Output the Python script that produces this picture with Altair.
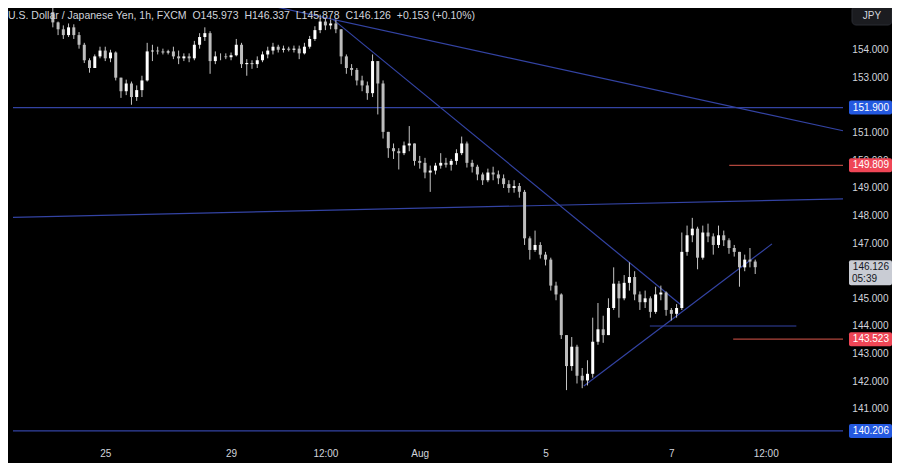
import altair as alt
import pandas as pd

# ---------------- data (2h candles, hour index counted in trading hours from Jul 25 00:00)
hours = list(range(-20, 250, 2))

opens = [
    155.35, 154.98, 154.73, 154.52, 154.80, 154.52, 154.17, 153.61, 153.33, 153.75,
    153.96, 153.68, 153.89, 152.98, 152.49, 152.77, 152.28, 152.53, 152.88, 153.93,
    153.96, 153.93, 153.89, 153.93, 153.75, 153.68, 153.75, 153.68, 154.17, 154.45,
    154.59, 153.58, 153.75, 153.75, 153.72, 153.79, 154.17, 153.47, 153.51, 153.47,
    153.61, 153.82, 153.96, 154.10, 153.99, 154.03, 153.99, 154.03, 153.86, 154.10,
    154.38, 154.70, 155.01, 154.87, 154.94, 154.73, 153.75, 153.33, 153.26, 152.88,
    152.70, 152.42, 153.58, 152.77, 151.02, 150.43, 150.32, 150.25, 150.53, 150.60,
    149.97, 149.90, 149.55, 149.62, 149.80, 149.90, 149.83, 149.97, 150.25, 150.60,
    149.90, 149.76, 149.48, 149.27, 149.55, 149.48, 149.34, 149.13, 148.99, 149.06,
    148.85, 147.17, 146.75, 146.93, 146.58, 146.40, 145.46, 145.14, 143.67, 142.55,
    143.25, 142.20, 142.03, 142.27, 143.43, 143.88, 143.67, 144.65, 145.53, 145.00,
    145.56, 145.77, 145.14, 144.86, 145.00, 144.51, 145.14, 145.21, 144.58, 144.44,
    144.65, 146.68, 147.28, 147.52, 146.47, 147.38, 147.24, 146.93, 147.28, 147.10,
    146.82, 146.68, 146.12, 146.40, 146.33,
]
highs = [
    155.80, 155.01, 154.87, 154.94, 154.91, 154.63, 154.24, 153.68, 153.82, 154.10,
    154.10, 153.99, 153.93, 152.98, 152.91, 152.84, 152.70, 153.05, 154.24, 154.17,
    154.10, 154.03, 153.99, 154.10, 153.96, 153.86, 153.86, 154.31, 154.59, 154.80,
    154.66, 153.93, 153.86, 153.86, 153.89, 154.38, 154.24, 153.65, 153.61, 153.75,
    153.93, 154.10, 154.24, 154.17, 154.14, 154.10, 154.14, 154.14, 154.24, 154.49,
    154.84, 155.26, 155.12, 155.08, 155.08, 154.73, 153.82, 153.47, 153.33, 153.05,
    152.84, 153.82, 153.58, 152.88, 151.02, 150.60, 150.43, 150.67, 151.23, 150.60,
    150.15, 150.08, 149.80, 149.90, 150.25, 150.08, 150.04, 150.39, 150.85, 150.67,
    150.01, 149.83, 149.55, 149.69, 149.76, 149.62, 149.48, 149.27, 149.27, 149.17,
    148.92, 147.24, 147.45, 147.03, 146.68, 146.47, 145.60, 145.18, 143.67, 143.60,
    143.32, 142.48, 142.76, 144.30, 144.83, 144.37, 145.00, 146.12, 145.63, 145.84,
    146.30, 145.98, 145.25, 145.28, 145.07, 145.42, 145.46, 145.25, 144.65, 144.79,
    147.38, 147.63, 147.91, 147.59, 147.63, 147.70, 147.35, 147.63, 147.45, 147.17,
    146.93, 146.68, 146.58, 146.82, 146.40,
]
lows = [
    154.80, 154.52, 154.38, 154.45, 154.38, 154.03, 153.51, 153.16, 153.33, 153.68,
    153.58, 153.54, 152.88, 152.25, 152.35, 152.00, 152.14, 152.28, 152.84, 153.58,
    153.82, 153.82, 153.82, 153.65, 153.47, 153.58, 153.54, 153.61, 154.03, 154.31,
    153.12, 153.47, 153.61, 153.65, 153.61, 153.75, 153.33, 153.05, 153.30, 153.33,
    153.54, 153.68, 153.82, 153.89, 153.89, 153.93, 153.89, 153.65, 153.82, 154.03,
    154.31, 154.59, 154.70, 154.73, 154.59, 153.47, 153.12, 153.05, 152.70, 152.49,
    152.18, 152.28, 151.65, 150.78, 150.08, 150.04, 149.66, 150.18, 150.32, 149.80,
    149.69, 149.34, 148.85, 149.48, 149.69, 149.73, 149.62, 149.83, 150.18, 149.73,
    149.55, 149.27, 149.10, 149.20, 149.27, 149.13, 148.99, 148.82, 148.82, 148.64,
    146.93, 146.40, 146.68, 146.44, 146.19, 145.28, 144.93, 143.53, 141.68, 142.38,
    141.92, 141.75, 141.85, 142.13, 143.32, 143.39, 143.67, 144.58, 144.30, 144.93,
    145.28, 144.93, 144.58, 144.65, 144.30, 144.44, 144.93, 144.37, 144.20, 144.30,
    144.58, 146.54, 147.03, 146.05, 146.40, 147.03, 146.58, 146.82, 146.89, 146.61,
    146.51, 145.42, 145.98, 146.12, 145.88,
]
closes = [
    154.98, 154.73, 154.52, 154.80, 154.52, 154.17, 153.61, 153.33, 153.75, 153.96,
    153.68, 153.89, 152.98, 152.49, 152.77, 152.28, 152.53, 152.88, 153.93, 153.96,
    153.93, 153.89, 153.93, 153.75, 153.68, 153.75, 153.68, 154.17, 154.45, 154.59,
    153.58, 153.75, 153.75, 153.72, 153.79, 154.17, 153.47, 153.51, 153.47, 153.61,
    153.82, 153.96, 154.10, 153.99, 154.03, 153.99, 154.03, 153.86, 154.10, 154.38,
    154.70, 155.01, 154.87, 154.94, 154.73, 153.75, 153.33, 153.26, 152.88, 152.70,
    152.42, 153.58, 152.77, 151.02, 150.43, 150.32, 150.25, 150.53, 150.60, 149.97,
    149.90, 149.55, 149.62, 149.80, 149.90, 149.83, 149.97, 150.25, 150.60, 149.90,
    149.76, 149.48, 149.27, 149.55, 149.48, 149.34, 149.13, 148.99, 149.06, 148.85,
    147.17, 146.75, 146.93, 146.58, 146.40, 145.46, 145.14, 143.67, 142.55, 143.25,
    142.20, 142.03, 142.27, 143.43, 143.88, 143.67, 144.65, 145.53, 145.00, 145.56,
    145.77, 145.14, 144.86, 145.00, 144.51, 145.14, 145.21, 144.58, 144.44, 144.65,
    146.68, 147.28, 147.52, 146.47, 147.38, 147.24, 146.93, 147.28, 147.10, 146.82,
    146.68, 146.12, 146.40, 146.33, 146.126,
]

# x-axis tick labels (hour index -> label)
tick_hours = [0, 48, 84, 120, 168, 216, 252]
tick_labels = ["25", "29", "12:00", "Aug", "5", "7", "12:00"]
# price ticks that are not hidden behind the price tags
price_ticks = [141, 142, 143, 144, 145, 147, 148, 149, 150, 151, 153, 154]

# drawn lines: start hour, start price, end hour, end price, kind
X_MIN, X_MAX = -35.2, 281.5
Y_MIN, Y_MAX = 139.84, 155.50
seg_h1 = [X_MIN, X_MIN, X_MIN, 66.0, 87.0, 182.6, 207.8, 238.1, 239.6]
seg_p1 = [151.9, 140.206, 147.93, 155.52, 155.08, 141.83, 144.0, 149.809, 143.523]
seg_h2 = [X_MAX, X_MAX, X_MAX, X_MAX, 219.6, 254.4, 263.7, X_MAX, X_MAX]
seg_p2 = [151.9, 140.206, 148.60, 151.06, 144.77, 146.97, 144.0, 149.809, 143.523]
seg_kind = ["blue"] * 7 + ["red"] * 2

# price tags on the right scale
tag_prices = [151.9, 149.809, 143.523, 140.206]
tag_kinds = ["blue", "red", "red", "blue"]
last_price = [146.126]
countdown = ["05:39"]
GAP = "\u00a0\u00a0"
title_text = GAP.join(["U.S. Dollar / Japanese Yen, 1h, FXCM", "O145.973", "H146.337",
                       "L145.878", "C146.126", "+0.153 (+0.10%)"])

# ---------------- chart
W, H = 840, 433
FONT = "Liberation Sans"
TXT = "#d1d4dc"

candles = pd.DataFrame({"h": hours, "o": opens, "hi": highs, "lo": lows, "c": closes})
segs = pd.DataFrame({"h": seg_h1, "p": seg_p1, "h2": seg_h2, "p2": seg_p2, "kind": seg_kind})
tags = pd.DataFrame({"p": tag_prices, "kind": tag_kinds})
last = pd.DataFrame({"p": last_price, "cd": countdown})

xs = alt.Scale(domain=[X_MIN, X_MAX], nice=False, zero=False)
ys = alt.Scale(domain=[Y_MIN, Y_MAX], nice=False, zero=False)

label_expr = " : ".join(f"datum.value == {h} ? '{l}'" for h, l in zip(tick_hours, tick_labels)) + " : ''"

x_axis = alt.Axis(values=tick_hours, labelExpr=label_expr, labelColor=TXT, labelFontSize=10,
                  labelFont=FONT, ticks=False, tickSize=0, domain=False, grid=False,
                  labelPadding=7, title="", labelFlush=False)
y_axis = alt.Axis(orient="right", values=price_ticks, format=".3f", labelColor=TXT,
                  labelFontSize=10, labelFont=FONT, labelAlign="right", labelPadding=40,
                  ticks=False, tickSize=0, domain=False, grid=False, title="")


def X(field):
    return alt.X(field, type="quantitative", scale=xs, axis=x_axis, title="")


def Y(field):
    return alt.Y(field, type="quantitative", scale=ys, axis=y_axis, title="")


is_blue = "datum.kind == 'blue'"

segments = alt.Chart(segs).mark_rule(strokeWidth=1.2, clip=True).encode(
    x=X("h"), y=Y("p"), x2="h2", y2="p2",
    color=alt.condition(is_blue, alt.value("#3343a3"), alt.value("#b0463c")),
)

wicks = alt.Chart(candles).mark_rule(strokeWidth=1, color="#c4c4c4", clip=True).encode(
    x=X("h"), y=Y("lo"), y2="hi",
)

bodies = alt.Chart(candles).mark_bar(size=3, clip=True).encode(
    x=X("h"), y=Y("o"), y2="c",
    color=alt.condition("datum.c >= datum.o", alt.value("#ffffff"), alt.value("#bdbdbd")),
)

tag_boxes = alt.Chart(tags).mark_rect(yOffset=-7, y2Offset=7, cornerRadius=2).encode(
    x=alt.value(W + 1), x2=alt.value(W + 44),
    y=Y("p"), y2="p",
    color=alt.condition(is_blue, alt.value("#2459e0"), alt.value("#ef4656")),
)
tag_text = alt.Chart(tags).mark_text(align="right", baseline="middle", fontSize=10,
                                     font=FONT, color="#ffffff").encode(
    x=alt.value(W + 41), y=Y("p"), text=alt.Text("p:Q", format=".3f"),
)

last_box = alt.Chart(last).mark_rect(yOffset=-7, y2Offset=18, color="#c9ccd4", cornerRadius=2).encode(
    x=alt.value(W + 1), x2=alt.value(W + 44), y=Y("p"), y2="p",
)
last_text = alt.Chart(last).mark_text(align="right", baseline="middle", fontSize=10,
                                      font=FONT, color="#131722").encode(
    x=alt.value(W + 41), y=Y("p"), text=alt.Text("p:Q", format=".3f"),
)
last_cd = alt.Chart(last).mark_text(align="left", baseline="middle", fontSize=10, dy=12,
                                    font=FONT, color="#131722").encode(
    x=alt.value(W + 4), y=Y("p"), text="cd:N",
)

title = alt.Chart(pd.DataFrame({"t": [title_text]})).mark_text(
    align="left", baseline="middle", fontSize=10.5, font=FONT, color=TXT
).encode(x=alt.value(0), y=alt.value(8), text="t:N")

cur = alt.Chart(pd.DataFrame({"t": ["JPY"]}))
cur_box = cur.mark_rect(color="#1b1c20", stroke="#2a2c33", cornerRadius=4).encode(
    x=alt.value(W + 4), x2=alt.value(W + 44), y=alt.value(-2), y2=alt.value(17))
cur_text = cur.mark_text(align="center", baseline="middle", fontSize=10, font=FONT,
                         color=TXT).encode(x=alt.value(W + 24), y=alt.value(8), text="t:N")

chart = alt.layer(
    segments, wicks, bodies, tag_boxes, tag_text, last_box, last_text, last_cd,
    title, cur_box, cur_text,
).properties(
    width=W, height=H, background="#000000",
    padding={"left": 0, "top": 0, "right": 44, "bottom": 22},
    autosize=alt.AutoSizeParams(type="none"),
).configure_view(stroke="transparent")

chart.save("out.html", embed_options={"renderer": "svg", "actions": False})
